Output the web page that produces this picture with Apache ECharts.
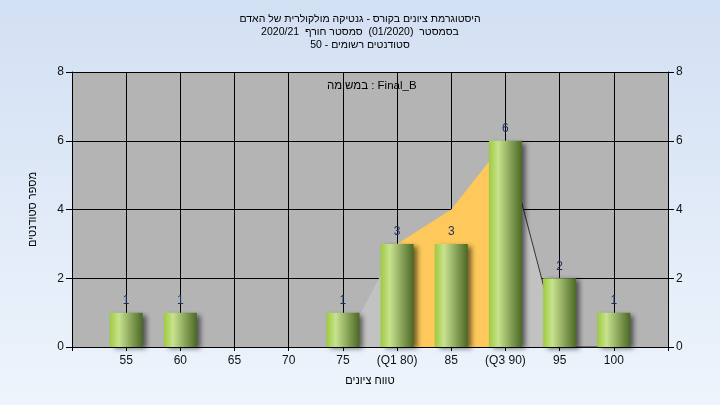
<!DOCTYPE html>
<html>
<head>
<meta charset="utf-8">
<script src="https://cdn.jsdelivr.net/npm/echarts@6/dist/echarts.min.js"></script>
<style>html,body{margin:0;padding:0;}#c{width:720px;height:405px;}</style>
</head>
<body>
<div id="c"></div>
<script>
var titleLines = ['היסטוגרמת ציונים בקורס - גנטיקה מולקולרית של האדם', 'בסמסטר  (01/2020)  סמסטר חורף  2020/21', 'סטודנטים רשומים - 50'];
var legendText = 'במשימה : Final_B';
var xTitle = 'טווח ציונים';
var yTitle = 'מספר סטודנטים';
var categories = ['', '55', '60', '65', '70', '75', '(Q1 80)', '85', '(Q3 90)', '95', '100', ''];
var counts = [null, 1, 1, 0, 0, 1, 3, 3, 6, 2, 1, null];
var lowerTail = [null, null, null, null, null, 0, 3, null, null, null, null, null];
var iqrBand = [null, null, null, null, null, null, 3, 4, 6, null, null, null];
var upperTail = [null, null, null, null, null, null, null, null, 6, 0, 0, null];
var yTicks = {min: 0, max: 8, interval: 2};

var chart = echarts.init(document.getElementById('c'));
var font = 'Liberation Sans, Arial, sans-serif';
var axisCommon = {
  type: 'value', min: yTicks.min, max: yTicks.max, interval: yTicks.interval,
  axisLine: {show: true, lineStyle: {color: '#000', width: 1}},
  axisTick: {show: true, length: 6, lineStyle: {color: '#000'}},
  axisLabel: {color: '#111', fontSize: 12, fontFamily: font},
  splitLine: {show: true, lineStyle: {color: '#000', width: 1}}
};
chart.setOption({
  backgroundColor: new echarts.graphic.LinearGradient(0, 0, 0, 1, [
    {offset: 0, color: '#d2e0f3'}, {offset: 1, color: '#eef4fc'}
  ]),
  animation: false,
  title: {
    text: titleLines.join('\n'), left: 'center', top: 8,
    textStyle: {fontSize: 10.5, fontWeight: 'normal', color: '#000', fontFamily: font, lineHeight: 13}
  },
  graphic: [{
    type: 'text', left: 327, top: 80,
    style: {text: legendText, fill: '#000', font: '11.5px ' + font}
  }],
  grid: {left: 72, right: 52, top: 72, bottom: 58, show: true, backgroundColor: '#b4b4b4', borderWidth: 0},
  xAxis: {
    type: 'category', data: categories, boundaryGap: false,
    name: xTitle, nameLocation: 'middle', nameGap: 28,
    nameTextStyle: {color: '#000', fontSize: 11, fontFamily: font},
    axisLine: {show: true, lineStyle: {color: '#000'}},
    axisTick: {show: true, length: 4, lineStyle: {color: '#000'}},
    axisLabel: {color: '#111', fontSize: 12, fontFamily: font, margin: 8, interval: 0},
    splitLine: {show: true, lineStyle: {color: '#000'}}
  },
  yAxis: [
    Object.assign({}, axisCommon, {position: 'left', name: yTitle, nameLocation: 'middle', nameGap: 34, nameRotate: 90,
      nameTextStyle: {color: '#000', fontSize: 11, fontFamily: font}}),
    Object.assign({}, axisCommon, {position: 'right', splitLine: {show: false}})
  ],
  series: [
    {type: 'line', data: lowerTail, symbol: 'none', z: 1,
      lineStyle: {width: 0}, areaStyle: {color: '#c2c2c2', opacity: 1}},
    {type: 'line', data: iqrBand, symbol: 'none', z: 1,
      lineStyle: {width: 0}, areaStyle: {color: '#fec95a', opacity: 1}},
    {type: 'line', data: upperTail, symbol: 'none', z: 1,
      lineStyle: {width: 1, color: '#333'}, areaStyle: {color: '#c2c2c2', opacity: 1}},
    {type: 'bar', data: counts, barWidth: 33, z: 3,
      itemStyle: {
        color: new echarts.graphic.LinearGradient(0, 0, 1, 0, [
          {offset: 0, color: '#9ecb3e'}, {offset: 0.28, color: '#c8e28e'}, {offset: 1, color: '#4b6825'}
        ]),
        shadowColor: 'rgba(0,0,0,0.55)', shadowBlur: 5, shadowOffsetX: 4, shadowOffsetY: 2
      },
      label: {show: true, position: 'top', distance: 6, color: '#1c2f5e', fontSize: 12, fontFamily: font,
        formatter: function (p) { return p.value > 0 ? p.value : ''; }}
    }
  ]
});
</script>
</body>
</html>
